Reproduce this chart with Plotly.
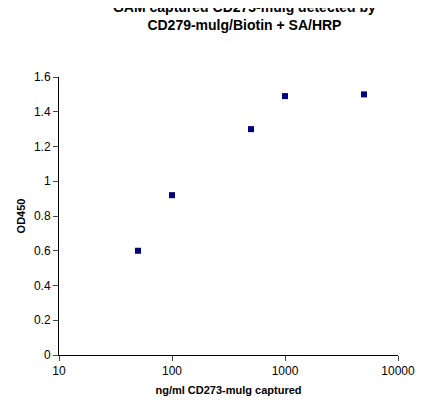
import plotly.graph_objs as go

conc = [50, 100, 500, 1000, 5000]
od450 = [0.6, 0.92, 1.3, 1.49, 1.5]
x_ticks = [10, 100, 1000, 10000]
y_ticks = [0, 0.2, 0.4, 0.6, 0.8, 1, 1.2, 1.4, 1.6]

trace = go.Scatter(x=conc, y=od450, mode='markers',
                   marker=dict(symbol='square', size=6, color='#000080'))

font = dict(family='Arial, Liberation Sans', size=12, color='black')

layout = go.Layout(
    width=426, height=410,
    margin=dict(l=49, r=36, t=69, b=63),
    paper_bgcolor='white', plot_bgcolor='white',
    font=font,
    title=dict(text='<b>GAM captured CD273-mulg detected by<br>CD279-mulg/Biotin + SA/HRP</b>',
               x=0.555, xanchor='center', y=0.99, yanchor='top',
               font=dict(family='Arial, Liberation Sans', size=14, color='black')),
    xaxis=dict(type='log', range=[1, 4], tickvals=x_ticks, ticktext=[str(v) for v in x_ticks],
               showline=True, linecolor='black', ticks='outside', ticklen=5, showgrid=False,
               zeroline=False,
               title=dict(text='<b>ng/ml CD273-mulg captured</b>', font=dict(size=11), standoff=8)),
    yaxis=dict(range=[0, 1.6], tickvals=y_ticks, ticktext=[str(v) for v in y_ticks],
               showline=True, linecolor='black', ticks='outside', ticklen=5, showgrid=False,
               zeroline=False,
               title=dict(text='<b>OD450</b>', font=dict(size=11), standoff=6)),
    showlegend=False,
)

fig = go.Figure(data=[trace], layout=layout)
fig.write_html("out.html")
